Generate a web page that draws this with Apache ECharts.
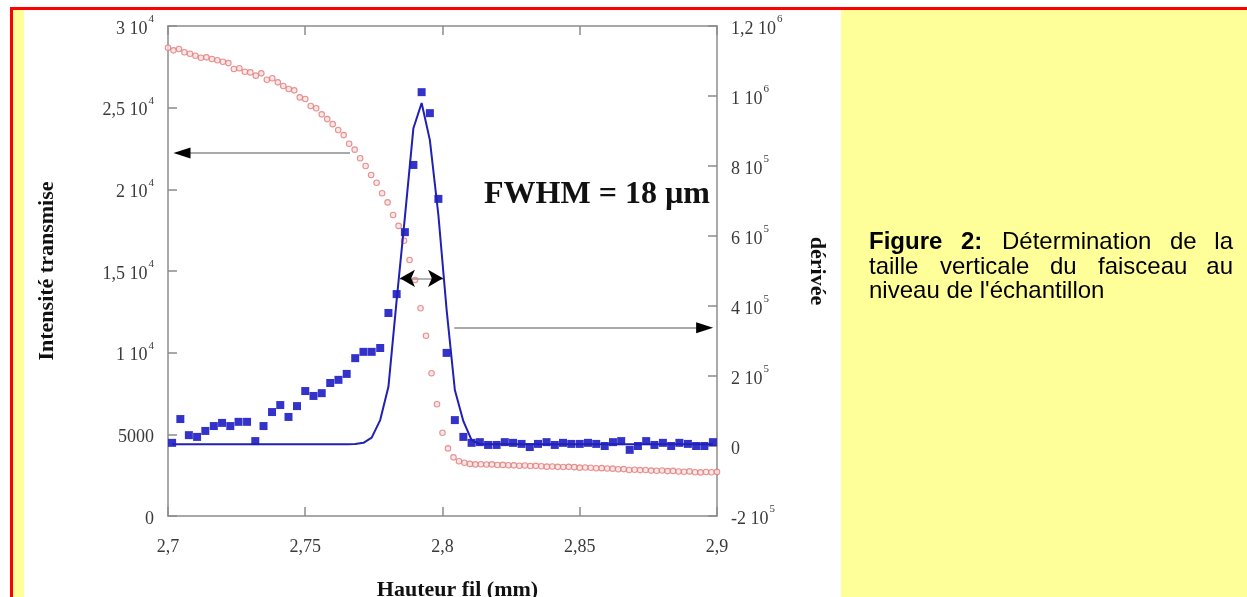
<!DOCTYPE html>
<html><head><meta charset="utf-8">
<script src="https://cdn.jsdelivr.net/npm/echarts@6/dist/echarts.min.js"></script>
<style>html,body{margin:0;padding:0;background:#fff}#c{width:1247px;height:597px}</style>
</head><body><div id="c"></div>
<script>
// Transmitted intensity (left axis), open pink circles
const pinkX = [
2.700,2.702,2.704,2.706,2.708,2.710,2.712,2.714,2.716,2.718,
2.720,2.722,2.724,2.726,2.728,2.730,2.732,2.734,2.736,2.738,
2.740,2.742,2.744,2.746,2.748,2.750,2.752,2.754,2.756,2.758,
2.760,2.762,2.764,2.766,2.768,2.770,2.772,2.774,2.776,2.778,
2.780,2.782,2.784,2.786,2.788,2.790,2.792,2.794,2.796,2.798,
2.800,2.802,2.804,2.806,2.808,2.810,2.812,2.814,2.816,2.818,
2.820,2.822,2.824,2.826,2.828,2.830,2.832,2.834,2.836,2.838,
2.840,2.842,2.844,2.846,2.848,2.850,2.852,2.854,2.856,2.858,
2.860,2.862,2.864,2.866,2.868,2.870,2.872,2.874,2.876,2.878,
2.880,2.882,2.884,2.886,2.888,2.890,2.892,2.894,2.896,2.898,
2.900];
const pinkY = [
28670,28510,28590,28390,28300,28180,28060,28080,27980,27900,
27810,27730,27370,27410,27200,27160,26960,27100,26710,26800,
26550,26330,26140,26060,25630,25530,25100,24960,24590,24300,
23990,23630,23320,22790,22430,21900,21430,20880,20400,19760,
19200,18430,17760,16850,15670,14450,12720,11040,8740,6840,
5100,4140,3590,3350,3260,3190,3160,3170,3150,3160,
3120,3130,3110,3100,3080,3090,3060,3070,3050,3020,
3030,3010,3000,3010,2990,2960,2970,2950,2920,2930,
2910,2900,2860,2870,2820,2830,2810,2820,2780,2770,
2790,2750,2760,2720,2710,2730,2680,2670,2690,2680,
2700];
// Derivative (right axis): blue squares and fitted curve
const blueX = [
2.7015,2.7045,2.7076,2.7106,2.7136,2.7167,2.7197,2.7227,2.7257,2.7288,
2.7318,2.7348,2.7379,2.7409,2.7439,2.7470,2.7500,2.7530,2.7560,2.7591,
2.7621,2.7651,2.7682,2.7712,2.7742,2.7773,2.7803,2.7833,2.7863,2.7894,
2.7924,2.7954,2.7985,2.8015,2.8045,2.8076,2.8106,2.8136,2.8166,2.8197,
2.8227,2.8257,2.8288,2.8318,2.8348,2.8379,2.8409,2.8439,2.8469,2.8500,
2.8530,2.8560,2.8591,2.8621,2.8651,2.8682,2.8712,2.8742,2.8772,2.8803,
2.8833,2.8863,2.8894,2.8924,2.8954,2.8985];
const blueY = [
9000,77000,31000,26000,43000,57000,66000,57000,69000,69000,
14000,57000,97000,117000,83000,114000,157000,143000,151000,180000,
189000,206000,251000,269000,269000,280000,380000,434000,611000,803000,
1011000,951000,706000,266000,74000,26000,9000,11000,3000,3000,
11000,9000,6000,-3000,6000,11000,3000,9000,6000,6000,
9000,6000,0,11000,14000,-11000,0,14000,3000,9000,
0,9000,6000,0,0,11000];
const fitY = [
5000,5000,5000,5000,5000,5000,5000,5000,5000,5000,
5000,5000,5000,5000,5000,5000,5000,5000,5000,5000,
5000,5000,6000,9000,24000,74000,169000,417000,654000,908000,
980000,874000,660000,389000,160000,71000,17000,5000,5000,5000,
5000,5000,5000,5000,5000,5000,5000,5000,5000,5000,
5000,5000,5000,5000,5000,5000,5000,5000,5000,5000,
5000,5000,5000,5000,5000,5000];
// Tick labels
const xTicks = ['2,7','2,75','2,8','2,85','2,9'];
const leftTicks = [['0',''],['5000',''],['1 10','4'],['1,5 10','4'],['2 10','4'],['2,5 10','4'],['3 10','4']];
const rightTicks = [['-2 10','5'],['0',''],['2 10','5'],['4 10','5'],['6 10','5'],['8 10','5'],['1 10','6'],['1,2 10','6']];
// Annotation arrows [x1, y1, x2, y2] in data units
const leftArrow = [2.7663, 22230, 2.7051, 22230];
const rightArrow = [2.8043, 338000, 2.8955, 338000];
const fwhmArrow = [2.7845, 479000, 2.8002, 479000];

const serif = "'Liberation Serif','Times New Roman',serif";
const sans = "'Liberation Sans',Arial,sans-serif";
const labColor = '#3a3a3a';
const axisCol = '#8c8c8c';

function fmt(list, min, step) {
  return function (v) {
    const t = list[Math.round((v - min) / step)];
    if (!t) return '';
    return '{b|' + t[0] + '}' + (t[1] ? '{s|' + t[1] + '}' : '');
  };
}
const rich = {
  b: {fontFamily: serif, fontSize: 18, color: labColor, lineHeight: 24, verticalAlign: 'bottom'},
  s: {fontFamily: serif, fontSize: 11, color: labColor, lineHeight: 11, verticalAlign: 'top', padding: [0, 0, 0, 1]}
};

function zip(xs, ys) { return xs.map((x, i) => [x, ys[i]]); }

const chart = echarts.init(document.getElementById('c'), null, {renderer: 'canvas'});

function arrowLines(a, headType, headSize, both, lineCol) {
  const [x1, y1, x2, y2] = a;
  const dx = (x2 - x1) * 0.01;
  const items = [
    [{coord: [x1, y1], symbol: 'none', lineStyle: {color: lineCol, width: 1.5, type: 'solid'}},
     {coord: [x2, y2], symbol: 'none'}],
    [{coord: [x2 - dx, y2], symbol: 'none', lineStyle: {color: '#000', width: 1, type: 'solid'}},
     {coord: [x2, y2], symbol: headType, symbolSize: headSize}]
  ];
  if (both) {
    items.push([{coord: [x1 + dx, y1], symbol: 'none', lineStyle: {color: '#000', width: 1, type: 'solid'}},
                {coord: [x1, y1], symbol: headType, symbolSize: headSize}]);
  }
  return items;
}

const titleStyle = {fontFamily: serif, fontSize: 22, fontWeight: 'bold', color: '#111'};

const option = {
  animation: false,
  backgroundColor: '#ffffff',
  grid: {left: 168, top: 26, right: 530, bottom: 81, containLabel: false, outerBoundsMode: 'none'},
  xAxis: [{
    type: 'value', min: 2.7, max: 2.9, interval: 0.05, position: 'bottom',
    axisLine: {show: true, onZero: false, lineStyle: {color: axisCol, width: 1.5}},
    axisTick: {show: true, inside: true, length: 9, lineStyle: {color: axisCol, width: 1.5}},
    splitLine: {show: false},
    axisLabel: {margin: 22, fontFamily: serif, fontSize: 18, color: labColor,
      formatter: v => xTicks[Math.round((v - 2.7) / 0.05)] || ''},
    name: 'Hauteur fil (mm)', nameLocation: 'middle', nameGap: 63,
    nameTextStyle: Object.assign({padding: [0, 0, 0, 30]}, titleStyle)
  }, {
    type: 'value', min: 2.7, max: 2.9, interval: 0.05, position: 'top',
    axisLine: {show: true, onZero: false, lineStyle: {color: axisCol, width: 1.5}},
    axisTick: {show: true, inside: true, length: 9, lineStyle: {color: axisCol, width: 1.5}},
    splitLine: {show: false}, axisLabel: {show: false}
  }],
  yAxis: [{
    type: 'value', min: 0, max: 30000, interval: 5000, position: 'left',
    axisLine: {show: true, onZero: false, lineStyle: {color: axisCol, width: 1.5}},
    axisTick: {show: true, inside: true, length: 9, lineStyle: {color: axisCol, width: 1.5}},
    splitLine: {show: false},
    axisLabel: {margin: 14, formatter: fmt(leftTicks, 0, 5000), rich: rich},
    name: 'Intensité transmise', nameLocation: 'middle', nameGap: 110, nameRotate: 90,
    nameTextStyle: titleStyle
  }, {
    type: 'value', min: -200000, max: 1200000, interval: 200000, position: 'right',
    axisLine: {show: true, onZero: false, lineStyle: {color: axisCol, width: 1.5}},
    axisTick: {show: true, inside: true, length: 9, lineStyle: {color: axisCol, width: 1.5}},
    splitLine: {show: false},
    axisLabel: {margin: 14, formatter: fmt(rightTicks, -200000, 200000), rich: rich},
    name: 'dérivée', nameLocation: 'middle', nameGap: 89, nameRotate: -90,
    nameTextStyle: titleStyle
  }],
  series: [{
    name: 'intensité', type: 'scatter', xAxisIndex: 0, yAxisIndex: 0,
    data: zip(pinkX, pinkY), symbol: 'circle', symbolSize: 5.5,
    itemStyle: {color: '#fbe0e0', borderColor: '#e07878', borderWidth: 1.1},
    silent: true,
    markLine: {silent: true, animation: false, label: {show: false}, emphasis: {disabled: true},
      symbol: ['none', 'none'], data: arrowLines(leftArrow, 'triangle', [11, 17], false, axisCol)}
  }, {
    name: 'ajustement', type: 'line', xAxisIndex: 0, yAxisIndex: 1,
    data: zip(blueX, fitY), showSymbol: false, smooth: false,
    lineStyle: {color: '#2020b4', width: 2}, silent: true
  }, {
    name: 'dérivée', type: 'scatter', xAxisIndex: 0, yAxisIndex: 1,
    data: zip(blueX, blueY), symbol: 'rect', symbolSize: 8,
    itemStyle: {color: '#0000bb'}, silent: true,
    markLine: {silent: true, animation: false, label: {show: false}, emphasis: {disabled: true},
      symbol: ['none', 'none'],
      data: arrowLines(rightArrow, 'triangle', [11, 17], false, axisCol)
        .concat(arrowLines(fwhmArrow, 'arrow', [13, 15], true, '#9a9a9a'))}
  }],
  graphic: [
    {type: 'rect', z: -10, shape: {x: 10, y: 7, width: 1237, height: 3}, style: {fill: '#ff0000'}},
    {type: 'rect', z: -10, shape: {x: 10, y: 7, width: 3, height: 590}, style: {fill: '#ff0000'}},
    {type: 'rect', z: -10, shape: {x: 13, y: 10, width: 11, height: 587}, style: {fill: '#ffff99'}},
    {type: 'rect', z: -10, shape: {x: 841, y: 10, width: 406, height: 587}, style: {fill: '#ffff99'}},
    {type: 'text', left: 484, top: 179, style: {text: 'FWHM = 18 µm', font: 'bold 32px ' + serif, fill: '#111'}},
    {type: 'text', x: 869, y: 242, style: {text: 'Figure', font: 'bold 24px ' + sans, fill: '#000', verticalAlign: 'middle'}},
    {type: 'text', x: 961, y: 242, style: {text: '2:', font: 'bold 24px ' + sans, fill: '#000', verticalAlign: 'middle'}},
    {type: 'text', x: 1002, y: 242, style: {text: 'Détermination', font: '24px ' + sans, fill: '#000', verticalAlign: 'middle'}},
    {type: 'text', x: 1170, y: 242, style: {text: 'de', font: '24px ' + sans, fill: '#000', verticalAlign: 'middle'}},
    {type: 'text', x: 1233, y: 242, style: {text: 'la', font: '24px ' + sans, fill: '#000', verticalAlign: 'middle', align: 'right'}},
    {type: 'text', x: 869, y: 267, style: {text: 'taille', font: '24px ' + sans, fill: '#000', verticalAlign: 'middle'}},
    {type: 'text', x: 940, y: 267, style: {text: 'verticale', font: '24px ' + sans, fill: '#000', verticalAlign: 'middle'}},
    {type: 'text', x: 1050, y: 267, style: {text: 'du', font: '24px ' + sans, fill: '#000', verticalAlign: 'middle'}},
    {type: 'text', x: 1098, y: 267, style: {text: 'faisceau', font: '24px ' + sans, fill: '#000', verticalAlign: 'middle'}},
    {type: 'text', x: 1233, y: 267, style: {text: 'au', font: '24px ' + sans, fill: '#000', verticalAlign: 'middle', align: 'right'}},
    {type: 'text', x: 869, y: 291, style: {text: "niveau de l'échantillon", font: '24px ' + sans, fill: '#000', verticalAlign: 'middle'}}
  ]
};
chart.setOption(option);
</script></body></html>
